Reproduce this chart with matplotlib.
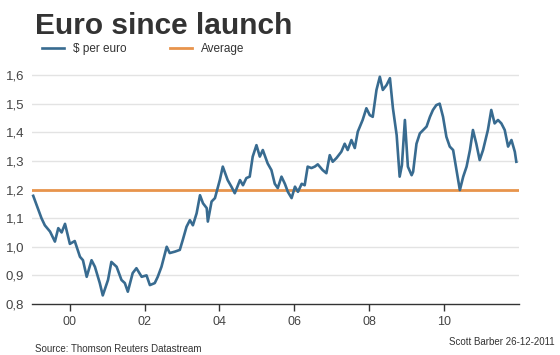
import matplotlib
matplotlib.use("Agg")
import matplotlib.pyplot as plt
import numpy as np

plt.rcParams['font.family'] = ['Liberation Sans', 'DejaVu Sans']

# dollars per euro (decimal year, value)
years = [1999.02, 1999.24, 1999.33, 1999.47, 1999.60, 1999.69, 1999.78, 1999.87,
         2000.00, 2000.13, 2000.27, 2000.35, 2000.45, 2000.58, 2000.67, 2000.80,
         2000.88, 2001.02, 2001.11, 2001.25, 2001.38, 2001.47, 2001.55, 2001.68,
         2001.78, 2001.92, 2002.05, 2002.14, 2002.27, 2002.35, 2002.45, 2002.59,
         2002.67, 2002.81, 2002.94, 2003.02, 2003.12, 2003.21, 2003.29, 2003.39,
         2003.48, 2003.56, 2003.66, 2003.69, 2003.79, 2003.88, 2004.01, 2004.09,
         2004.14, 2004.22, 2004.32, 2004.41, 2004.55, 2004.63, 2004.72, 2004.81,
         2004.89, 2004.99, 2005.08, 2005.16, 2005.29, 2005.39, 2005.48, 2005.56,
         2005.66, 2005.75, 2005.83, 2005.93, 2006.02, 2006.10, 2006.20, 2006.28,
         2006.36, 2006.46, 2006.55, 2006.63, 2006.76, 2006.86, 2006.95, 2007.03,
         2007.13, 2007.26, 2007.35, 2007.43, 2007.53, 2007.62, 2007.70, 2007.83,
         2007.93, 2008.02, 2008.10, 2008.20, 2008.29, 2008.37, 2008.47, 2008.56,
         2008.64, 2008.74, 2008.82, 2008.88, 2008.96, 2009.04, 2009.14, 2009.18,
         2009.27, 2009.36, 2009.45, 2009.54, 2009.63, 2009.71, 2009.80, 2009.89,
         2009.98, 2010.07, 2010.16, 2010.25, 2010.34, 2010.43, 2010.52, 2010.61,
         2010.70, 2010.78, 2010.87, 2010.96, 2011.05, 2011.18, 2011.27, 2011.36,
         2011.45, 2011.54, 2011.63, 2011.72, 2011.81, 2011.90, 2011.94]
usd_per_eur = [1.178, 1.100, 1.075, 1.053, 1.018, 1.065, 1.050, 1.080,
               1.010, 1.020, 0.965, 0.953, 0.895, 0.953, 0.930, 0.873,
               0.830, 0.884, 0.947, 0.930, 0.884, 0.873, 0.843, 0.908,
               0.925, 0.895, 0.900, 0.866, 0.873, 0.895, 0.930, 1.000,
               0.978, 0.983, 0.989, 1.024, 1.070, 1.093, 1.075, 1.117,
               1.180, 1.152, 1.135, 1.088, 1.158, 1.170, 1.233, 1.280,
               1.262, 1.233, 1.210, 1.187, 1.233, 1.215, 1.240, 1.245,
               1.315, 1.355, 1.315, 1.338, 1.291, 1.268, 1.220, 1.205,
               1.245, 1.220, 1.192, 1.170, 1.210, 1.192, 1.220, 1.215,
               1.280, 1.275, 1.280, 1.288, 1.268, 1.257, 1.320, 1.297,
               1.310, 1.332, 1.360, 1.338, 1.373, 1.345, 1.402, 1.443,
               1.484, 1.460, 1.454, 1.548, 1.594, 1.548, 1.565, 1.589,
               1.484, 1.390, 1.245, 1.285, 1.443, 1.280, 1.250, 1.262,
               1.360, 1.396, 1.408, 1.420, 1.454, 1.478, 1.495, 1.500,
               1.454, 1.384, 1.350, 1.338, 1.268, 1.198, 1.245, 1.280,
               1.338, 1.408, 1.360, 1.303, 1.338, 1.408, 1.478, 1.431,
               1.443, 1.431, 1.408, 1.350, 1.373, 1.332, 1.297]
average = 1.20

tick_years = [2000, 2002, 2004, 2006, 2008, 2010]
tick_labels = ['00', '02', '04', '06', '08', '10']
y_ticks = [0.8, 0.9, 1.0, 1.1, 1.2, 1.3, 1.4, 1.5, 1.6]

blue = '#386b90'
orange = '#e8944c'
txt = '#333333'

fig = plt.figure(figsize=(5.6, 3.55), dpi=100)
ax = fig.add_axes([0.058, 0.1437, 0.868, 0.661])

for v in y_ticks[1:]:
    ax.axhline(v, color='#e3e3e3', lw=1.0, zorder=0)

l1, = ax.plot(years, usd_per_eur, color=blue, lw=1.9, label='$ per euro',
              clip_on=False, zorder=3)
l2 = ax.axhline(average, color=orange, lw=2.0, label='Average', zorder=2)

ax.set_xlim(1999.0, 2012.0)
ax.set_ylim(0.8, 1.62)
ax.set_xticks(tick_years)
ax.set_xticklabels(tick_labels)
ax.set_yticks(y_ticks)
ax.set_yticklabels([f'{v:.1f}'.replace('.', ',') for v in y_ticks])

for s in ['top', 'right', 'left']:
    ax.spines[s].set_visible(False)
ax.spines['bottom'].set_color('#333333')
ax.spines['bottom'].set_linewidth(1.0)
ax.tick_params(axis='x', length=5, width=1, color='#333333', pad=4,
               labelsize=9, labelcolor='#444444')
ax.tick_params(axis='y', length=0, pad=6, labelsize=9.5, labelcolor='#444444')

fig.text(0.062, 0.905, 'Euro since launch', fontsize=21.5, fontweight='bold',
         color=txt, ha='left', va='baseline')

fig.legend(handles=[l1, l2], loc='center left', bbox_to_anchor=(0.056, 0.862),
           ncol=2, frameon=False, fontsize=8.5, handlelength=1.9,
           handletextpad=0.7, columnspacing=3.7, labelcolor='#333333')

fig.text(0.063, 0.008, 'Source: Thomson Reuters Datastream', fontsize=7,
         color=txt, ha='left', va='baseline')
fig.text(0.99, 0.028, 'Scott Barber 26-12-2011', fontsize=7,
         color=txt, ha='right', va='baseline')

fig.savefig('out.png', dpi=100)
